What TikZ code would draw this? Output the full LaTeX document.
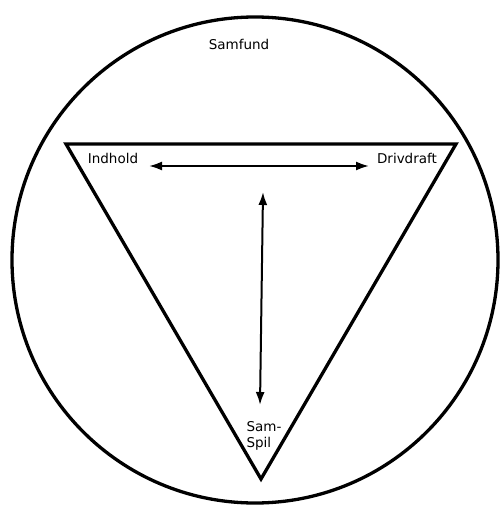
\documentclass[tikz,border=0pt]{standalone}
\usepackage{fontspec}
\setmainfont{DejaVu Sans}
\usetikzlibrary{arrows.meta}

\tikzset{
  thick line/.style={line width=3.3pt, line join=miter},
  label text/.style={font=\fontsize{13.5}{16}\selectfont, inner sep=0pt},
  double arrow/.style={line width=2pt, {Latex[length=13pt,width=9pt]}-{Latex[length=13pt,width=9pt]}}
}

\begin{document}
\begin{tikzpicture}[x=1pt,y=-1pt]
\useasboundingbox (0,0) rectangle (502,506);

%%%%%%%%%%%%%%%% circle %%%%%%%%%%%%%%%%
\coordinate (centre) at (255,260);
\draw[thick line] (centre) circle (243);
\node[label text] (samfund) at (239,44) {Samfund};

%%%%%%%%%%%%%%%% triangle %%%%%%%%%%%%%%%%
\coordinate (tl) at (66,144);
\coordinate (tr) at (456,144);
\coordinate (bt) at (261,479);
\draw[thick line] (tl) -- (tr) -- (bt) -- cycle;

\node[label text] (indhold) at (113,158) {Indhold};
\node[label text] (drivdraft) at (407,158) {Drivdraft};
\node[label text, align=left] (samspil) at (264,436) {Sam-\\Spil};

%%%%%%%%%%%%%%%% arrows %%%%%%%%%%%%%%%%
\coordinate (hl) at (149,166);
\coordinate (hr) at (369,166);
\coordinate (vt) at (263,192);
\coordinate (vb) at (260,405);
\draw[double arrow] (hl) -- (hr);
\draw[double arrow] (vt) -- (vb);

\end{tikzpicture}
\end{document}
